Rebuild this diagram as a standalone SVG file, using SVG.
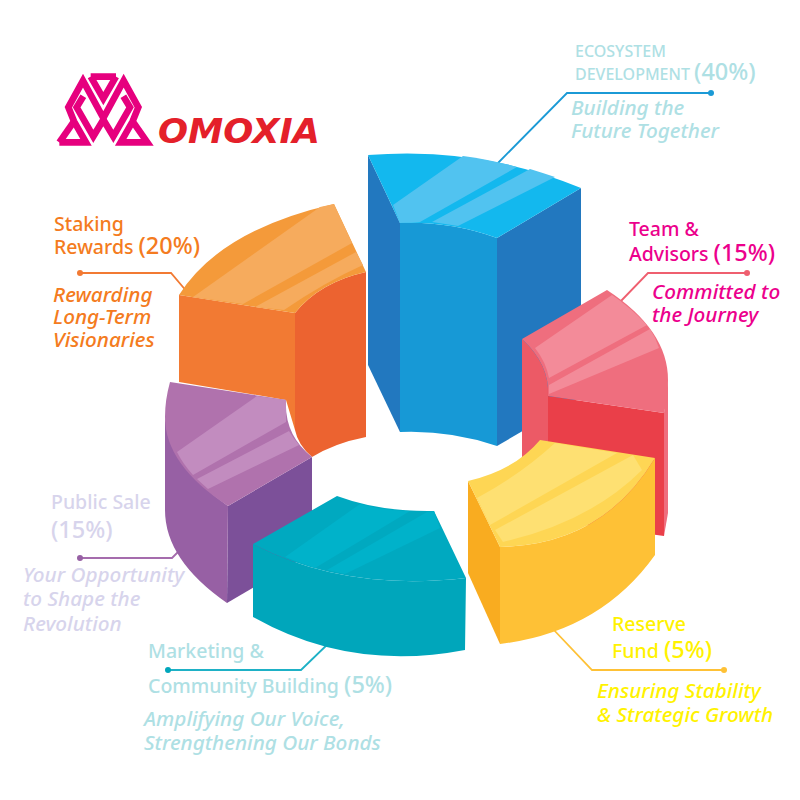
<svg xmlns="http://www.w3.org/2000/svg" width="800" height="800" viewBox="0 0 800 800">
<style>
text{font-family:"Noto Sans","Open Sans","DejaVu Sans",sans-serif;}
.h{font-size:19.5px;font-weight:500}
.c{font-size:16px;font-weight:500}
.p{font-size:23.5px;font-weight:500}
.s{font-size:20.7px;font-style:italic;font-weight:500}
.l{fill:none;stroke-width:1.8}
.teal{fill:#aee0e4}.pink{fill:#ec008c}.or{fill:#f47b20}.lav{fill:#d7d4ec}.yel{fill:#fff200}
</style>
<rect width="800" height="800" fill="#fff"/>
<g id="connectors">
<path class="l" d="M711 93H567L498 163" stroke="#1b9ad6"/><circle cx="711" cy="93" r="3" fill="#1b9ad6"/>
<path class="l" d="M747 273H648L620 302" stroke="#ef5f6f"/><circle cx="747" cy="273" r="3" fill="#ef5f6f"/>
<path class="l" d="M80 273H171L188 293" stroke="#f27a33"/><circle cx="80" cy="273" r="3" fill="#f27a33"/>
<path class="l" d="M80 558H172L182 548" stroke="#a56cad"/><circle cx="80" cy="558" r="3" fill="#9760a4"/>
<path class="l" d="M168 670H301L332 640" stroke="#1eb1c6"/><circle cx="168" cy="670" r="3" fill="#00a6bb"/>
<path class="l" d="M724 670H592L552 628" stroke="#fec136"/><circle cx="724" cy="670" r="3" fill="#fec136"/>
</g>
<g id="seg-ecosystem">
<path fill="#2278bf" d="M497 238L581 188V397L497 446Z"/>
<path fill="#2278bf" d="M368 155L400 223V432L368 365Z"/>
<path fill="#1799d6" d="M400 223Q450 221 497 238V446Q450 430 400 432Z"/>
<path fill="#13b8ee" d="M368 155Q480 146 581 188L497 238Q450 221 400 223Z"/>
<path fill="#51c3f0" d="M463 156Q492 160 517 167L420 222L400 223L393 205Z"/>
<path fill="#51c3f0" d="M530 169Q543 173 555 177L458 226Q445 224 432 222Z"/>
</g>
<g id="seg-team">
<path fill="#ec5a66" d="M522 339Q550 365 548 396V470L522 460Z"/>
<path fill="#ea3f49" d="M548 396L664 413V536L548 520Z"/>
<path fill="#ef6e7e" d="M668 380V513L664 536V413Z"/>
<path fill="#ef6e7e" d="M522 339L607 290Q668 330 668 380Q668 398 664 413L548 396Q550 365 522 339Z"/>
<path fill="#f38b99" d="M535 348L612 295Q630 307 647 325L549 378Q546 362 535 348Z"/>
<path fill="#f38b99" d="M650 329Q656 338 659 348L549 394L549 385Z"/>
</g>
<g id="seg-reserve">
<path fill="#f9ac20" d="M468 481L500 547V644L468 573Z"/>
<path fill="#fec136" d="M500 547Q603 545 655 458V555Q600 632 500 644Z"/>
<path fill="#fed654" d="M468 481Q515 470 540 440L655 458Q603 545 500 547Z"/>
<path fill="#fee072" d="M555 443L617 453L490 525L477 498Q520 475 555 443Z"/>
<path fill="#fee072" d="M633 455L642 470Q590 522 503 542L495 530Z"/>
</g>
<g id="seg-staking">
<path fill="#f27a33" d="M179 295L295 313V430L286 400L179 382Z"/>
<path fill="#ec6330" d="M295 313Q320 282 366 272V437Q335 443 312 457Q298 445 295 430Z"/>
<path fill="#f49a3a" d="M179 295Q220 230 334 204L366 272Q320 282 295 313Z"/>
<path fill="#f6ab5d" d="M320 207L334 204L352 243L243 304L193 297Z"/>
<path fill="#f6ab5d" d="M356 252L363 265Q325 282 284 310L255 307Z"/>
</g>
<g id="seg-public">
<path fill="#7c5099" d="M228 506L312 457V553L227 603Z"/>
<path fill="#9760a4" d="M165 417Q170 465 228 506L227 603Q165 560 165 510Z"/>
<path fill="#b072ad" d="M170 382L286 400Q284 435 312 457L228 506Q165 465 165 417Q165 400 170 382Z"/>
<path fill="#c28cbf" d="M257 396L286 400L286 422L193 475Q183 464 177 452Z"/>
<path fill="#c28cbf" d="M289 431Q293 438 299 445L208 489L197 479Z"/>
</g>
<g id="seg-marketing">
<path fill="#00a6bb" d="M253 544Q345 592 466 578L465 650Q350 672 253 617Z"/>
<path fill="#00a9c0" d="M253 544L337 496Q380 512 434 511L466 578Q345 592 253 544Z"/>
<path fill="#00b2ca" d="M360 504Q385 511 410 511L315 568Q300 563 285 557Z"/>
<path fill="#00b2ca" d="M427 512L434 511L440 528L345 574L327 570Z"/>
</g>
<g id="logo">
<g transform="translate(50 68) scale(.3333)" fill="none" stroke="#e6007e" stroke-width="20" stroke-linejoin="miter">
<path d="M28 223H108L72 160L55 118L99 38L160 150L221 38L265 118L248 160L212 223H292L248 160"/>
<path d="M72 160L28 223"/>
<path d="M122 26H198M122 26L160 92L198 26"/>
<path d="M100 85L80 118L130 205L160 155L190 205L240 118L220 85"/>
</g>
<text x="158" y="143" font-size="33" font-weight="700" font-style="italic" fill="#e4202a" textLength="162" lengthAdjust="spacingAndGlyphs" style="font-family:'DejaVu Sans',sans-serif">OMOXIA</text>
</g>
<g id="label-ecosystem" class="teal">
<text class="c" x="575" y="57">ECOSYSTEM</text>
<text class="c" x="575" y="80">DEVELOPMENT <tspan class="p">(40%)</tspan></text>
<text class="s" x="571" y="115">Building the</text>
<text class="s" x="571" y="138">Future Together</text>
</g>
<g id="label-team" class="pink">
<text class="h" x="629" y="236">Team &amp;</text>
<text class="h" x="629" y="261">Advisors <tspan class="p">(15%)</tspan></text>
<text class="s" x="652" y="299">Committed to</text>
<text class="s" x="652" y="322">the Journey</text>
</g>
<g id="label-staking" class="or">
<text class="h" x="54" y="231">Staking</text>
<text class="h" x="54" y="254">Rewards <tspan class="p">(20%)</tspan></text>
<text class="s" x="53" y="302">Rewarding</text>
<text class="s" x="53" y="324">Long-Term</text>
<text class="s" x="53" y="347">Visionaries</text>
</g>
<g id="label-public" class="lav">
<text class="h" x="51" y="509">Public Sale</text>
<text class="p" x="51" y="538">(15%)</text>
<text class="s" x="23" y="582">Your Opportunity</text>
<text class="s" x="23" y="606">to Shape the</text>
<text class="s" x="23" y="631">Revolution</text>
</g>
<g id="label-marketing" class="teal">
<text class="h" x="148" y="658">Marketing &amp;</text>
<text class="h" x="148" y="693">Community Building <tspan class="p">(5%)</tspan></text>
<text class="s" x="144" y="726">Amplifying Our Voice,</text>
<text class="s" x="144" y="750">Strengthening Our Bonds</text>
</g>
<g id="label-reserve" class="yel">
<text class="h" x="612" y="631">Reserve</text>
<text class="h" x="612" y="658">Fund <tspan class="p">(5%)</tspan></text>
<text class="s" x="597" y="698">Ensuring Stability</text>
<text class="s" x="597" y="722">&amp; Strategic Growth</text>
</g>
</svg>
